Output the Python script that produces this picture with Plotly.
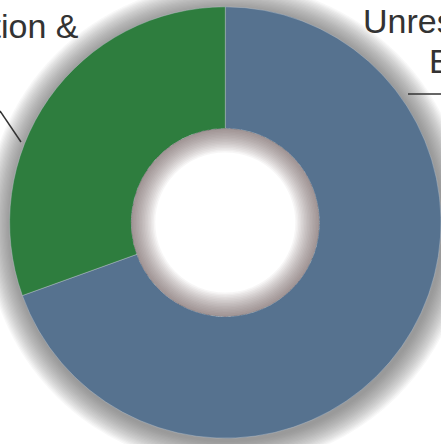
import plotly.graph_objects as go

# ---- data ----
categories = ["Unrestricted Endowment", "Administration & Fees"]
values = [69.5, 30.5]
colors = ["#56728f", "#2e7d3e"]

W, H = 441, 444
cx, cy, r = 225.3, 222.5, 215.7   # pixel geometry of the donut
rh = 94.0                          # hole radius, px

def px_dom(cxp, cyp, rad):
    return dict(x=[max(0, (cxp - rad) / W), min(1, (cxp + rad) / W)],
                y=[max(0, 1 - (cyp + rad) / H), min(1, 1 - (cyp - rad) / H)])

def circ(cxp, cyp, rad, fill, layer="below"):
    return dict(type="circle", xref="paper", yref="paper", layer=layer,
                x0=(cxp - rad) / W, x1=(cxp + rad) / W,
                y0=1 - (cyp + rad) / H, y1=1 - (cyp - rad) / H,
                fillcolor=fill, line=dict(width=0))

fig = go.Figure()

# main donut
fig.add_trace(go.Pie(
    labels=categories, values=values, sort=False, direction="clockwise",
    rotation=0, hole=rh / r, domain=px_dom(cx, cy, r),
    marker=dict(colors=colors, line=dict(color="rgba(190,200,210,0.7)", width=0.6)),
    textinfo="none", hoverinfo="label+percent", showlegend=False,
))

# inner shadow inside the hole (stacked translucent rings)
N_in = 16
for k in range(1, N_in + 1):
    inner = max(rh - k * 1.5, 1)
    fig.add_trace(go.Pie(
        values=[1], sort=False, hole=inner / rh, domain=px_dom(cx, cy, rh),
        marker=dict(colors=["rgba(95,82,84,0.05)"], line=dict(width=0)),
        textinfo="none", hoverinfo="skip", showlegend=False,
    ))

shapes = []
# outer drop shadow (stacked translucent circles below the donut)
N_out = 20
for k in range(1, N_out + 1):
    shapes.append(circ(cx + 1.5, cy + 2.5, r + k * 1.3, "rgba(95,82,84,0.042)"))
# keep the hole clean (white) above the shadow discs
shapes.append(circ(cx, cy, rh + 1, "white"))

# leader lines
shapes.append(dict(type="line", xref="paper", yref="paper",
                   x0=0 / W, y0=1 - 111 / H, x1=21 / W, y1=1 - 142 / H,
                   line=dict(color="#333333", width=1.5)))
shapes.append(dict(type="line", xref="paper", yref="paper",
                   x0=408 / W, y0=1 - 94 / H, x1=445 / W, y1=1 - 94 / H,
                   line=dict(color="#333333", width=1.5)))

font = dict(family="Liberation Sans, Arial, sans-serif", size=34, color="#333333")
annotations = [
    dict(text="Administration &", x=81 / W, y=1 - 26 / H, xref="paper", yref="paper",
         xanchor="right", yanchor="middle", showarrow=False, font=font),
    dict(text="Unrestricted", x=361 / W, y=1 - 21 / H, xref="paper", yref="paper",
         xanchor="left", yanchor="middle", showarrow=False, font=font),
    dict(text="Endowment", x=427 / W, y=1 - 61 / H, xref="paper", yref="paper",
         xanchor="left", yanchor="middle", showarrow=False, font=font),
]

fig.update_layout(
    width=W, height=H, margin=dict(l=0, r=0, t=0, b=0),
    paper_bgcolor="white", plot_bgcolor="white",
    shapes=shapes, annotations=annotations, showlegend=False,
)

fig.write_html("out.html", config={"displayModeBar": False},
               post_script="document.body.style.margin='0';document.body.style.padding='0';")
